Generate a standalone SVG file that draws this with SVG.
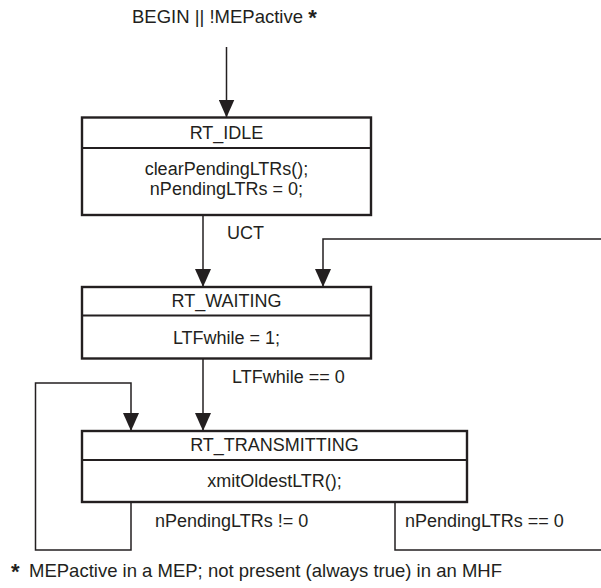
<svg xmlns="http://www.w3.org/2000/svg" width="601" height="588" viewBox="0 0 601 588">
<defs>
<style>
text{font-family:"Liberation Sans",Arial,Helvetica,sans-serif;font-size:18px;fill:#231f20}
.c{text-anchor:middle}
.big{font-size:18.5px}
.box{fill:#fff;stroke:#231f20;stroke-width:2.4}
.div{stroke:#231f20;stroke-width:2}
.edge{fill:none;stroke:#231f20;stroke-width:1.5}
.star{font-weight:bold;font-size:22px}
</style>
<marker id="ah" viewBox="0 0 18 16" refX="18" refY="8" markerWidth="18" markerHeight="16" markerUnits="userSpaceOnUse" orient="auto">
<path d="M0,0 L18,8 L0,16 z" fill="#231f20"/>
</marker>
</defs>
<rect width="601" height="588" fill="#fff"/>
<text class="big" x="132" y="23">BEGIN || !MEPactive <tspan class="star" dy="2">*</tspan></text>
<g id="connectors">
<path class="edge" d="M226.5,47 V117.5" marker-end="url(#ah)"/>
<path class="edge" d="M203,215 V287" marker-end="url(#ah)"/>
<path class="edge" d="M601,239 H323 V287" marker-end="url(#ah)"/>
<path class="edge" d="M203,358.5 V431" marker-end="url(#ah)"/>
<path class="edge" d="M131,502 V550 H35.5 V383 H131 V431" marker-end="url(#ah)"/>
<path class="edge" d="M395,502 V550 H601"/>
<text x="227" y="239">UCT</text>
<text x="232" y="383">LTFwhile == 0</text>
<text x="155" y="527">nPendingLTRs != 0</text>
<text x="405" y="527">nPendingLTRs == 0</text>
</g>
<g id="RT_IDLE">
<rect class="box" x="82" y="117.5" width="289" height="97.5"/>
<line class="div" x1="82" y1="148" x2="371" y2="148"/>
<text class="c" x="226.5" y="139">RT_IDLE</text>
<text class="c" x="226.5" y="175">clearPendingLTRs();</text>
<text class="c" x="226.5" y="195">nPendingLTRs = 0;</text>
</g>
<g id="RT_WAITING">
<rect class="box" x="82" y="287" width="289" height="71.5"/>
<line class="div" x1="82" y1="315.5" x2="371" y2="315.5"/>
<text class="c" x="226.5" y="307">RT_WAITING</text>
<text class="c" x="226.5" y="344">LTFwhile = 1;</text>
</g>
<g id="RT_TRANSMITTING">
<rect class="box" x="82" y="431" width="385" height="71"/>
<line class="div" x1="82" y1="460" x2="467" y2="460"/>
<text class="c" x="274.5" y="451">RT_TRANSMITTING</text>
<text class="c" x="274.5" y="487">xmitOldestLTR();</text>
</g>
<text class="big" x="11" y="577"><tspan class="star" dy="2">*</tspan><tspan x="29" dy="-2">MEPactive in a MEP; not present (always true) in an MHF</tspan></text>
</svg>
